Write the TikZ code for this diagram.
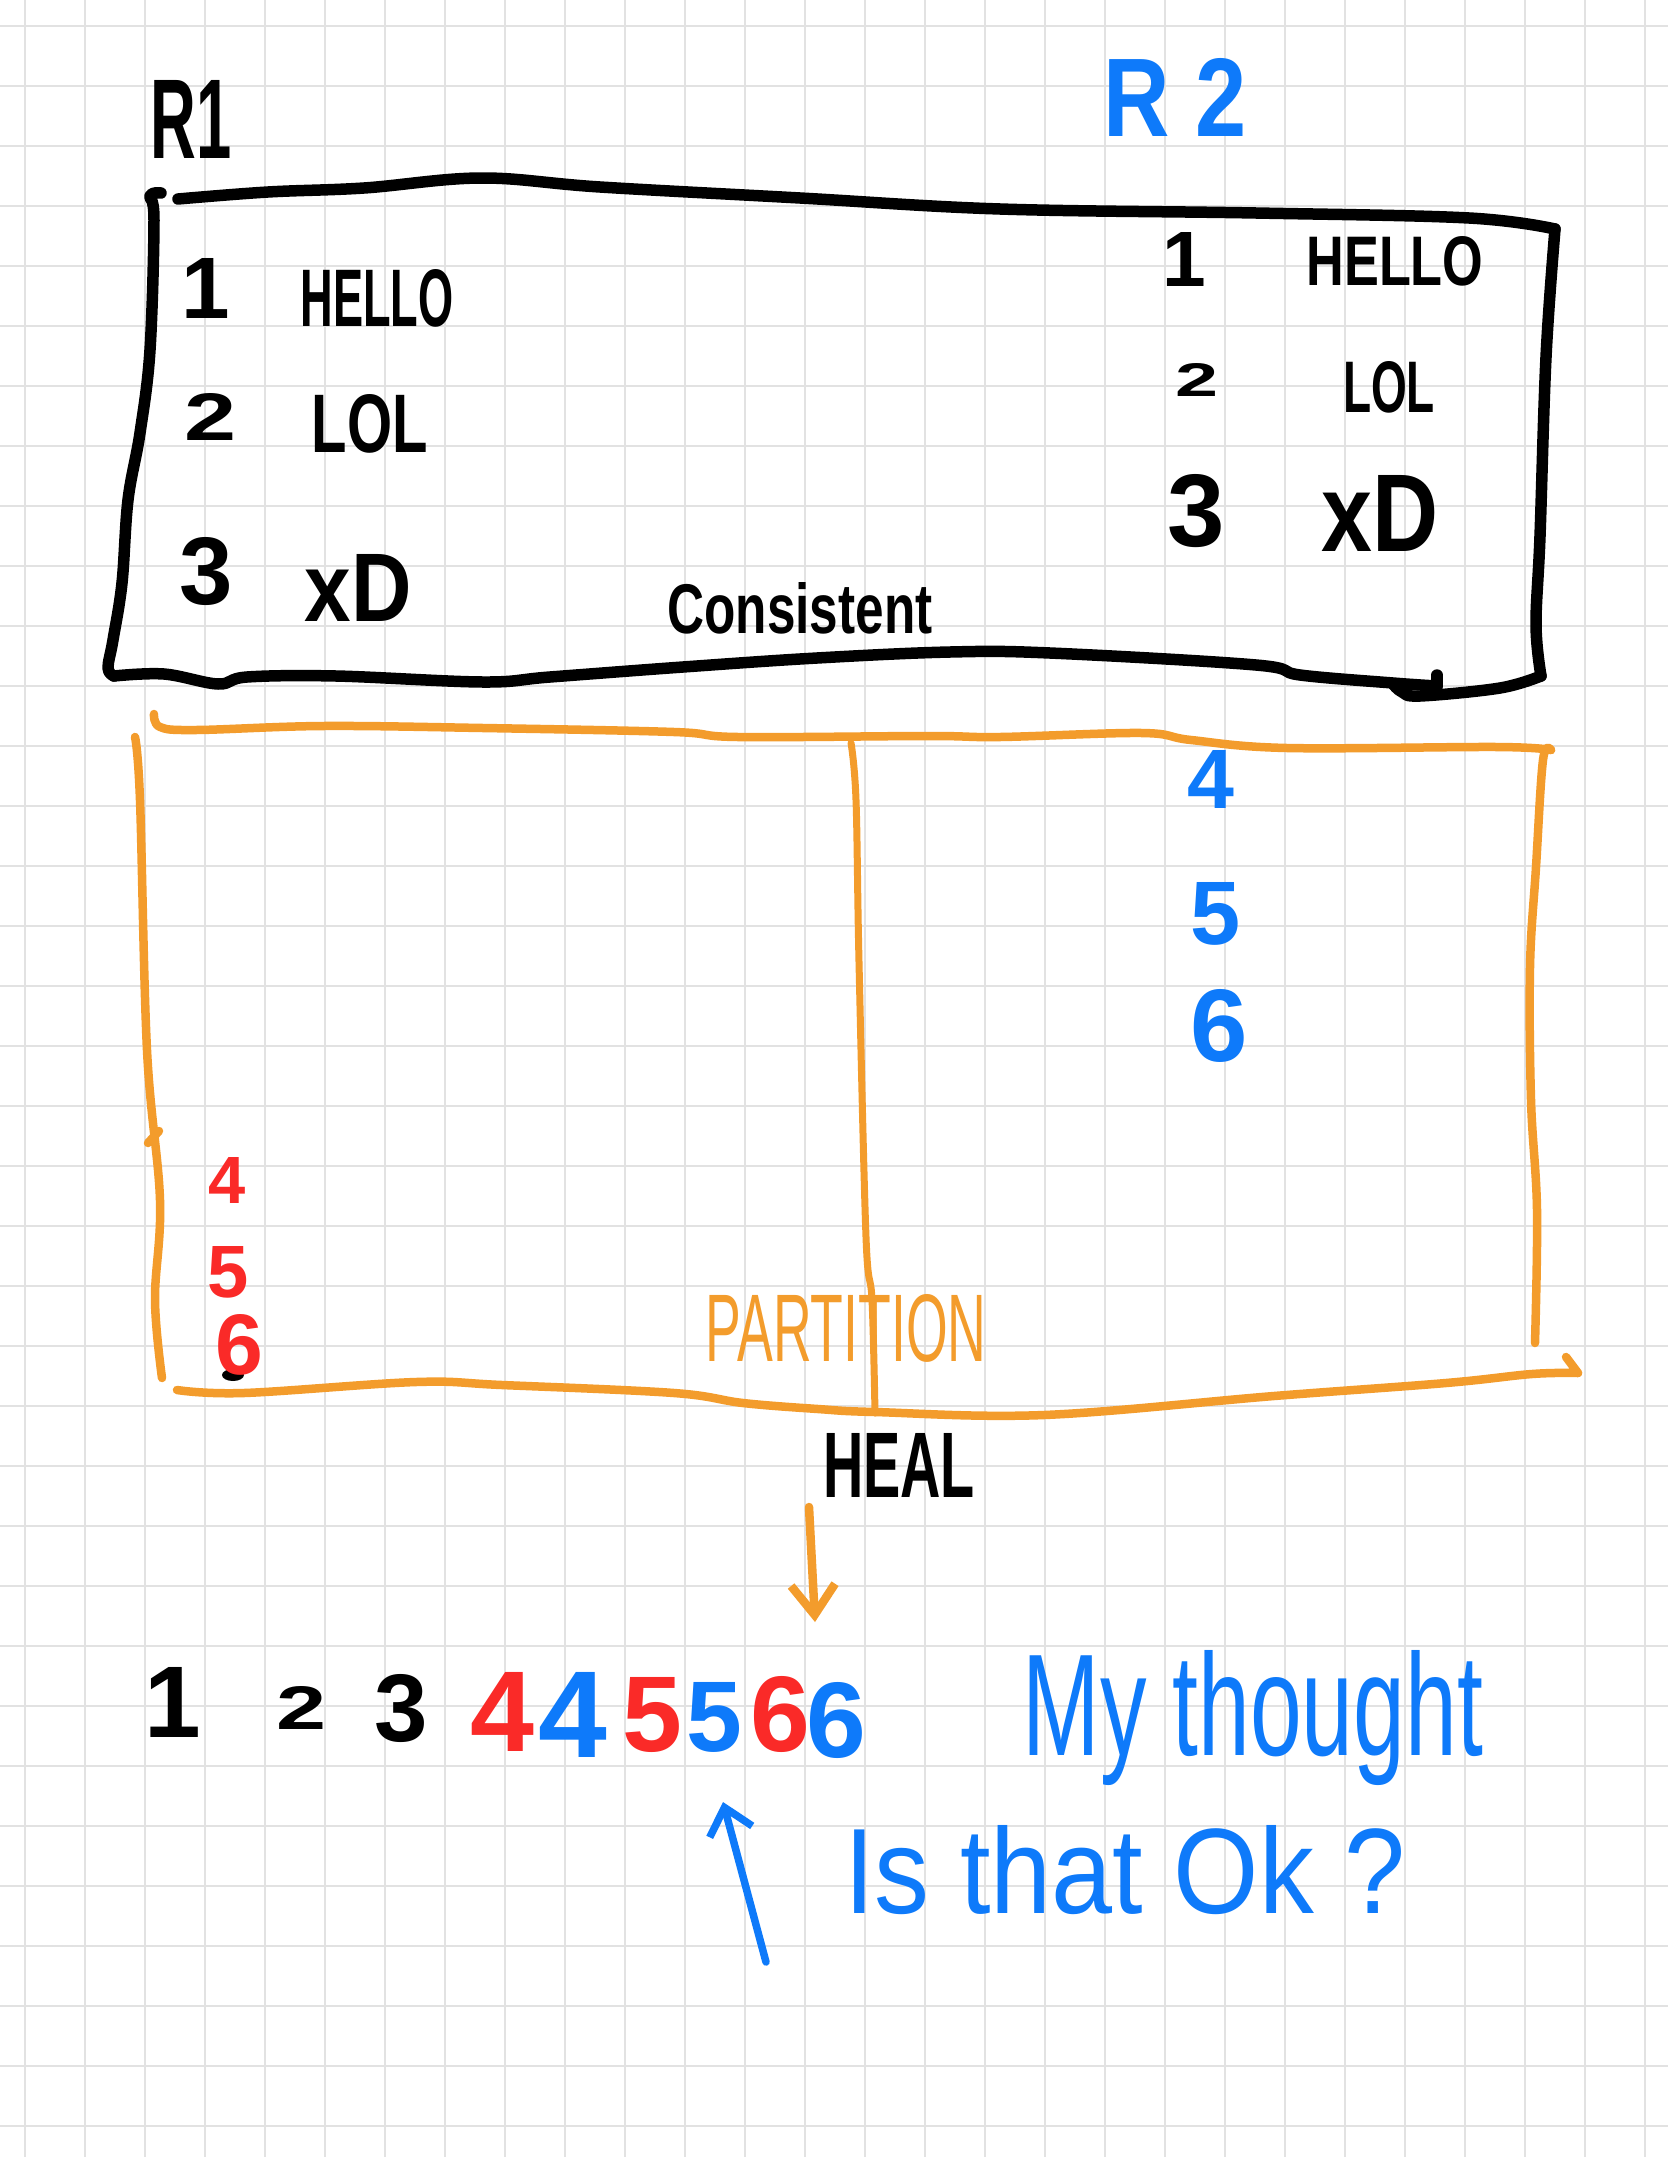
\documentclass[tikz,border=0pt]{standalone}
\usepackage{fontspec}
\usepackage{graphicx}
\usetikzlibrary{arrows.meta}
\setmainfont{Liberation Sans}

\definecolor{penorange}{RGB}{243,156,44}
\definecolor{penblue}{RGB}{14,122,250}
\definecolor{penred}{RGB}{250,42,40}
\definecolor{gridgray}{RGB}{226,226,226}

% hand-written word: width, height, text
\newcommand{\hw}[3]{\resizebox{#1pt}{#2pt}{\bfseries #3}}
% hand-written digit: height, digit
\newcommand{\hd}[2]{\resizebox{!}{#1pt}{\bfseries #2}}

\begin{document}
\begin{tikzpicture}[x=1pt,y=-1pt,
    ink/.style={line width=11.5pt, line cap=round, line join=round},
    pen/.style={line width=8.5pt, line cap=round, line join=round, penorange},
    txt/.style={inner sep=0pt, outer sep=0pt}]

    % Foglio a quadretti
    \useasboundingbox (0,0) rectangle (1668,2157);
    \fill[white] (0,0) rectangle (1668,2157);
    \foreach \gx in {25,85,...,1645}
        \draw[gridgray, line width=2.5pt] (\gx,0) -- (\gx,2157);
    \foreach \gy in {26,86,...,2126}
        \draw[gridgray, line width=2.5pt] (0,\gy) -- (1668,\gy);

    % Riquadro nero (stato consistente)
    \draw[ink] plot[smooth, tension=0.6] coordinates {(178,199) (268,192) (364,188) (481,178) (600,187) (800,198) (1000,209) (1256,213) (1469,218) (1555,229)};
    \draw[ink] plot[smooth, tension=0.6] coordinates {(1555,229) (1546,357) (1540,536) (1536,625) (1541,676)};
    \draw[ink] plot[smooth, tension=0.6] coordinates {(1541,676) (1500,688) (1420,696) (1402,692) (1393,684)};
    \draw[ink] plot[smooth, tension=0.6] coordinates {(161,193) (150,196) (154,220) (150,350) (140,433) (128,500) (122,583) (113,640) (108,668) (114,676)};
    \draw[ink] plot[smooth, tension=0.6] coordinates {(114,676) (164,674) (218,684) (247,677) (336,676) (483,682) (550,677) (683,667) (817,658) (950,652) (1050,653) (1256,665) (1300,675) (1393,683) (1437,686)};
    \draw[ink] (1437,686) -- (1437,675);

    % Repliche
    \node[txt] (rone) at (191,119) {\hw{81}{78}{R1}};
    \node[txt, text=penblue] (rtwo) at (1175,97) {\hw{143}{78}{R 2}};

    % Righe di R1
    \node[txt] (ida) at (206,288) {\hd{60}{1}};
    \node[txt] (vala) at (377,298) {\hw{153}{57}{HELLO}};
    \node[txt] (idb) at (211,417) {\hw{52}{47}{2}};
    \node[txt] (valb) at (370,424) {\hw{116}{58}{LOL}};
    \node[txt] (idc) at (206,572) {\hd{67}{3}};
    \node[txt] (valc) at (358,588) {\hw{107}{67}{xD}};

    % Righe di R2
    \node[txt] (idd) at (1184,259) {\hd{54}{1}};
    \node[txt] (vald) at (1395,261) {\hw{177}{49}{HELLO}};
    \node[txt] (ide) at (1197,380) {\hw{43}{33}{2}};
    \node[txt] (vale) at (1389,387) {\hw{92}{51}{LOL}};
    \node[txt] (idf) at (1196,511) {\hd{72}{3}};
    \node[txt] (valf) at (1380,513) {\hw{117}{76}{xD}};

    \node[txt] (consistent) at (800,608) {\hw{265}{51}{Consistent}};

    % Riquadro arancione (partizione)
    \draw[pen] plot[smooth, tension=0.6] coordinates {(154,714) (160,727) (196,730) (323,726) (483,728) (674,732) (738,737) (929,736) (1000,737) (1142,733) (1191,740) (1287,748) (1497,747) (1551,750)};
    \draw[pen] plot[smooth, tension=0.6] coordinates {(1551,750) (1543,760) (1536,867) (1530,967) (1531,1100) (1537,1210) (1535,1343)};
    \draw[pen] plot[smooth, tension=0.6] coordinates {(135,737) (140,800) (147,1050) (160,1200) (155,1300) (162,1378)};
    \draw[pen] (148,1143) -- (159,1131);
    \draw[pen] plot[smooth, tension=0.6] coordinates {(177,1390) (244,1393) (416,1382) (502,1385) (674,1393) (743,1403) (818,1409) (875,1412) (1044,1415) (1274,1396) (1446,1383) (1532,1374) (1578,1373)} -- (1566,1357);
    \draw[pen, line width=7pt] plot[smooth, tension=0.6] coordinates {(851,743) (856,800) (859,962) (866,1237) (872,1300) (875,1413)};

    % Scritture durante la partizione
    \node[txt, text=penblue] (bfour) at (1211,779) {\hd{58}{4}};
    \node[txt, text=penblue] (bfive) at (1216,914) {\hd{62}{5}};
    \node[txt, text=penblue] (bsix) at (1219,1026) {\hd{72}{6}};
    \node[txt, text=penred] (rfour) at (227,1180) {\hd{46}{4}};
    \node[txt, text=penred] (rfive) at (228,1272) {\hd{51}{5}};
    \fill (233,1375) ellipse (11 and 6);
    \node[txt, text=penred] (rsix) at (239,1345) {\hd{60}{6}};

    \node[txt, text=penorange] (partition) at (846,1328) {\resizebox{281pt}{67pt}{PARTITION}};
    \node[txt] (heal) at (899,1465) {\hw{152}{64}{HEAL}};

    % Freccia di guarigione
    \coordinate (healtail) at (809,1507);
    \coordinate (healtip) at (815,1622);
    \draw[pen, -{Straight Barb[length=30pt, width=44pt]}] (healtail) -- (healtip);

    % Log dopo la guarigione
    \node[txt] (lone) at (173,1702) {\hd{70}{1}};
    \node[txt] (ltwo) at (302,1708) {\hw{50}{43}{2}};
    \node[txt] (lthree) at (401,1708) {\hd{67}{3}};
    \node[txt, text=penred] (lfoura) at (502,1712) {\hd{79}{4}};
    \node[txt, text=penblue] (lfourb) at (573,1715) {\hd{85}{4}};
    \node[txt, text=penred] (lfivea) at (652,1715) {\hd{74}{5}};
    \node[txt, text=penblue] (lfiveb) at (714,1717) {\hd{69}{5}};
    \node[txt, text=penred] (lsixa) at (780,1714) {\hd{75}{6}};
    \node[txt, text=penblue] (lsixb) at (836,1720) {\hd{75}{6}};

    % Commento
    \node[txt, text=penblue, anchor=base] (thought) at (1253,1755) {\resizebox{460pt}{105pt}{My thought}};
    \node[txt, text=penblue, anchor=base] (askok) at (1125,1913) {\resizebox{561pt}{88pt}{Is that Ok ?}};
    \coordinate (asktail) at (766,1962);
    \coordinate (asktip) at (723,1802);
    \draw[line width=7.5pt, line cap=round, line join=round, penblue, -{Straight Barb[length=25pt, width=44pt]}] (asktail) -- (asktip);

\end{tikzpicture}
\end{document}
